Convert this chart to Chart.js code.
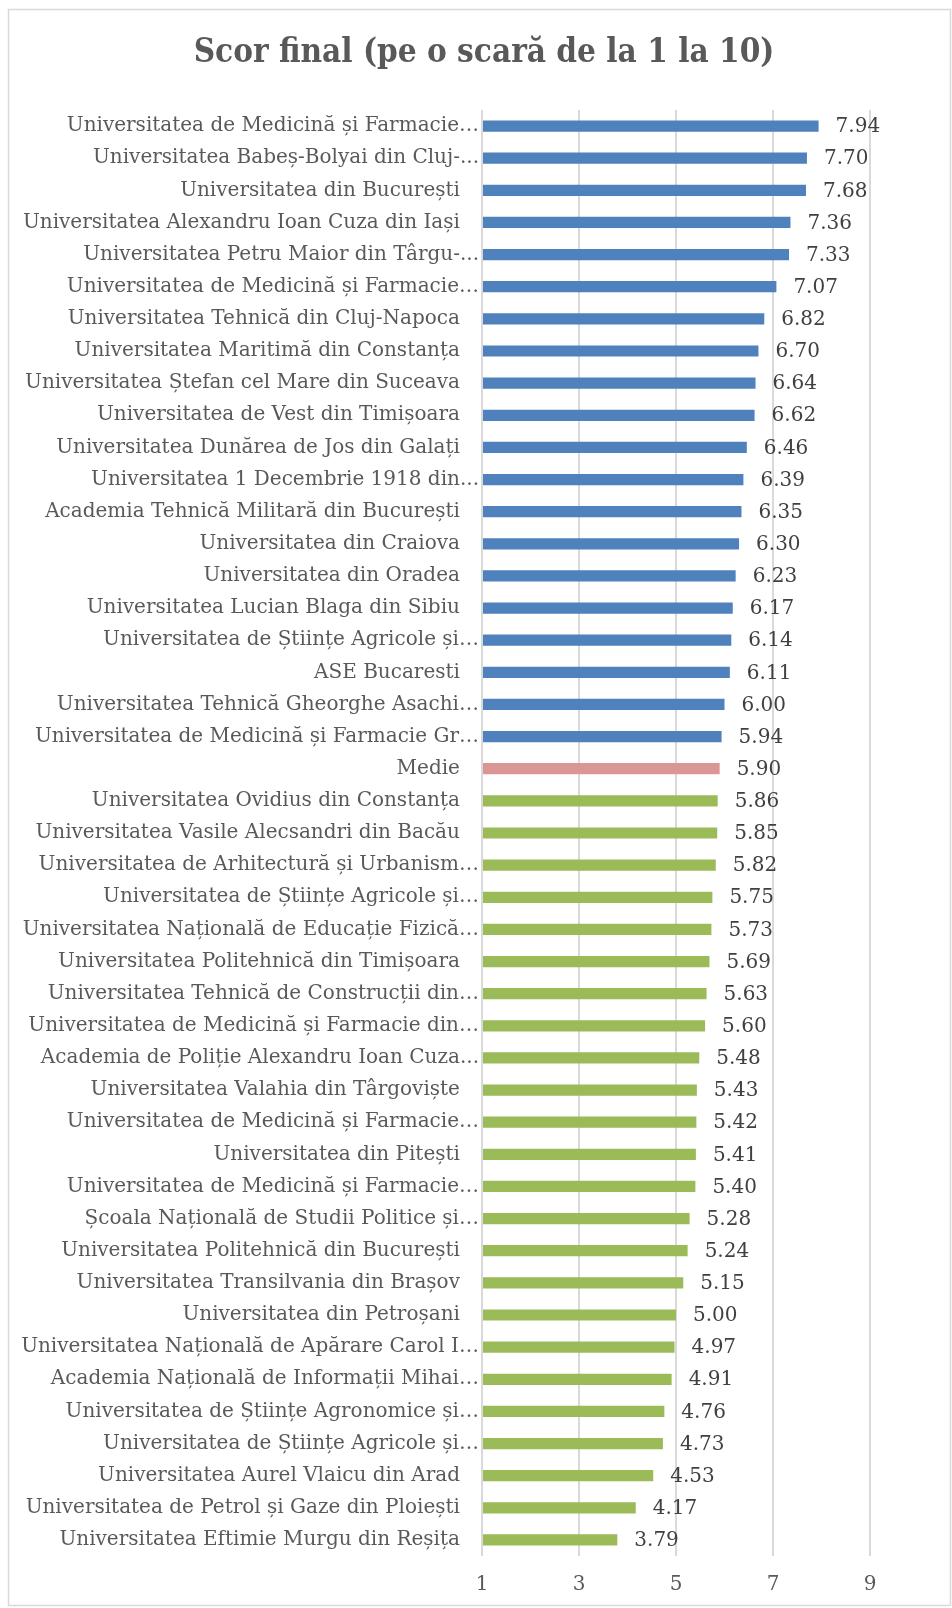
<!DOCTYPE html>
<html>
<head>
<meta charset="utf-8">
<script src="https://cdn.jsdelivr.net/npm/chart.js@4/dist/chart.umd.min.js"></script>
<style>
  html, body { margin: 0; padding: 0; background: #fff; }
  #wrap { position: relative; width: 952px; height: 1608px; }
</style>
</head>
<body>
<div id="wrap"><canvas id="scor"></canvas></div>
<script>
let titlu = "Scor final (pe o scară de la 1 la 10)";

let universitati = [
  "Universitatea de Medicină și Farmacie…",
  "Universitatea Babeș-Bolyai din Cluj-...",
  "Universitatea din București",
  "Universitatea Alexandru Ioan Cuza din Iași",
  "Universitatea Petru Maior din Târgu-...",
  "Universitatea de Medicină și Farmacie…",
  "Universitatea Tehnică din Cluj-Napoca",
  "Universitatea Maritimă din Constanța",
  "Universitatea Ștefan cel Mare din Suceava",
  "Universitatea de Vest din Timișoara",
  "Universitatea Dunărea de Jos din Galați",
  "Universitatea 1 Decembrie 1918 din...",
  "Academia Tehnică Militară din București",
  "Universitatea din Craiova",
  "Universitatea din Oradea",
  "Universitatea Lucian Blaga din Sibiu",
  "Universitatea de Științe Agricole și…",
  "ASE Bucaresti",
  "Universitatea Tehnică Gheorghe Asachi…",
  "Universitatea de Medicină și Farmacie Gr…",
  "Medie",
  "Universitatea Ovidius din Constanța",
  "Universitatea Vasile Alecsandri din Bacău",
  "Universitatea de Arhitectură și Urbanism…",
  "Universitatea de Științe Agricole și…",
  "Universitatea Națională de Educație Fizică…",
  "Universitatea Politehnică din Timișoara",
  "Universitatea Tehnică de Construcții din…",
  "Universitatea de Medicină și Farmacie din…",
  "Academia de Poliție Alexandru Ioan Cuza...",
  "Universitatea Valahia din Târgoviște",
  "Universitatea de Medicină și Farmacie…",
  "Universitatea din Pitești",
  "Universitatea de Medicină și Farmacie…",
  "Școala Națională de Studii Politice și…",
  "Universitatea Politehnică din București",
  "Universitatea Transilvania din Brașov",
  "Universitatea din Petroșani",
  "Universitatea Națională de Apărare Carol I…",
  "Academia Națională de Informații Mihai…",
  "Universitatea de Științe Agronomice și…",
  "Universitatea de Științe Agricole și…",
  "Universitatea Aurel Vlaicu din Arad",
  "Universitatea de Petrol și Gaze din Ploiești",
  "Universitatea Eftimie Murgu din Reșița"
];

let scoruri = [
  7.94, 7.70, 7.68, 7.36, 7.33, 7.07, 6.82, 6.70, 6.64, 6.62,
  6.46, 6.39, 6.35, 6.30, 6.23, 6.17, 6.14, 6.11, 6.00, 5.94,
  5.90,
  5.86, 5.85, 5.82, 5.75, 5.73, 5.69, 5.63, 5.60, 5.48, 5.43,
  5.42, 5.41, 5.40, 5.28, 5.24, 5.15, 5.00, 4.97, 4.91, 4.76,
  4.73, 4.53, 4.17, 3.79
];

let axaTicks = [1, 3, 5, 7, 9];

let culori = { peste: "#4F81BD", medie: "#D99694", sub: "#9BBB59" };

let idxMedie = universitati.indexOf("Medie");
let culoriBare = universitati.map((u, i) =>
  i < idxMedie ? culori.peste : i === idxMedie ? culori.medie : culori.sub
);

// chenarul graficului + titlul centrat pe toata latimea
const chenar = {
  id: "chenar",
  beforeDraw(chart) {
    const ctx = chart.ctx;
    ctx.save();
    ctx.fillStyle = "#fff";
    ctx.fillRect(0, 0, chart.width, chart.height);
    ctx.strokeStyle = "#D9D9D9";
    ctx.lineWidth = 1.5;
    ctx.strokeRect(8.5, 9.5, 942, 1596);
    ctx.font = "bold 33px 'DejaVu Serif Condensed', 'DejaVu Serif'";
    ctx.fillStyle = "#595959";
    ctx.textAlign = "center";
    ctx.textBaseline = "middle";
    ctx.fillText(titlu, 484, 53);
    ctx.restore();
  },
};

// etichetele cu valori la capatul barelor
const valori = {
  id: "valori",
  afterDatasetsDraw(chart) {
    const ctx = chart.ctx;
    const meta = chart.getDatasetMeta(0);
    ctx.save();
    ctx.font = "20px 'DejaVu Serif'";
    ctx.fillStyle = "#404040";
    ctx.textAlign = "left";
    ctx.textBaseline = "middle";
    meta.data.forEach((bar, i) => {
      ctx.fillText(scoruri[i].toFixed(2), bar.x + 17, bar.y + 1);
    });
    ctx.restore();
  },
};

new Chart(document.getElementById("scor"), {
  type: "bar",
  data: {
    labels: universitati,
    datasets: [
      {
        data: scoruri,
        base: 1,
        backgroundColor: culoriBare,
        barPercentage: 0.35,
        categoryPercentage: 1,
      },
    ],
  },
  options: {
    indexAxis: "y",
    responsive: true,
    maintainAspectRatio: false,
    animation: false,
    layout: { padding: { left: 0, right: 82, top: 110, bottom: 0 } },
    scales: {
      x: {
        min: 1,
        max: 9,
        afterBuildTicks: (axis) => {
          axis.ticks = axaTicks.map((v) => ({ value: v }));
        },
        afterFit: (axis) => {
          axis.height = 52;
        },
        grid: { color: "#D9D9D9", lineWidth: 2, drawTicks: false },
        border: { display: false },
        ticks: {
          padding: 17,
          color: "#595959",
          font: { family: "'DejaVu Serif'", size: 20 },
        },
      },
      y: {
        afterFit: (axis) => {
          axis.width = 482;
        },
        grid: { display: false, drawTicks: false },
        border: { display: false },
        ticks: {
          padding: 3,
          autoSkip: false,
          color: "#595959",
          font: { family: "'DejaVu Serif'", size: 20 },
          // punctele de suspensie ies in afara alinierii, ca in Excel
          callback: function (value) {
            let lbl = this.getLabelForValue(value);
            if (lbl.endsWith("…") || lbl.endsWith("...")) return lbl;
            return lbl + "   ";
          },
        },
      },
    },
    plugins: {
      legend: { display: false },
      tooltip: { enabled: false },
      title: { display: false },
    },
  },
  plugins: [chenar, valori],
});
</script>
</body>
</html>
